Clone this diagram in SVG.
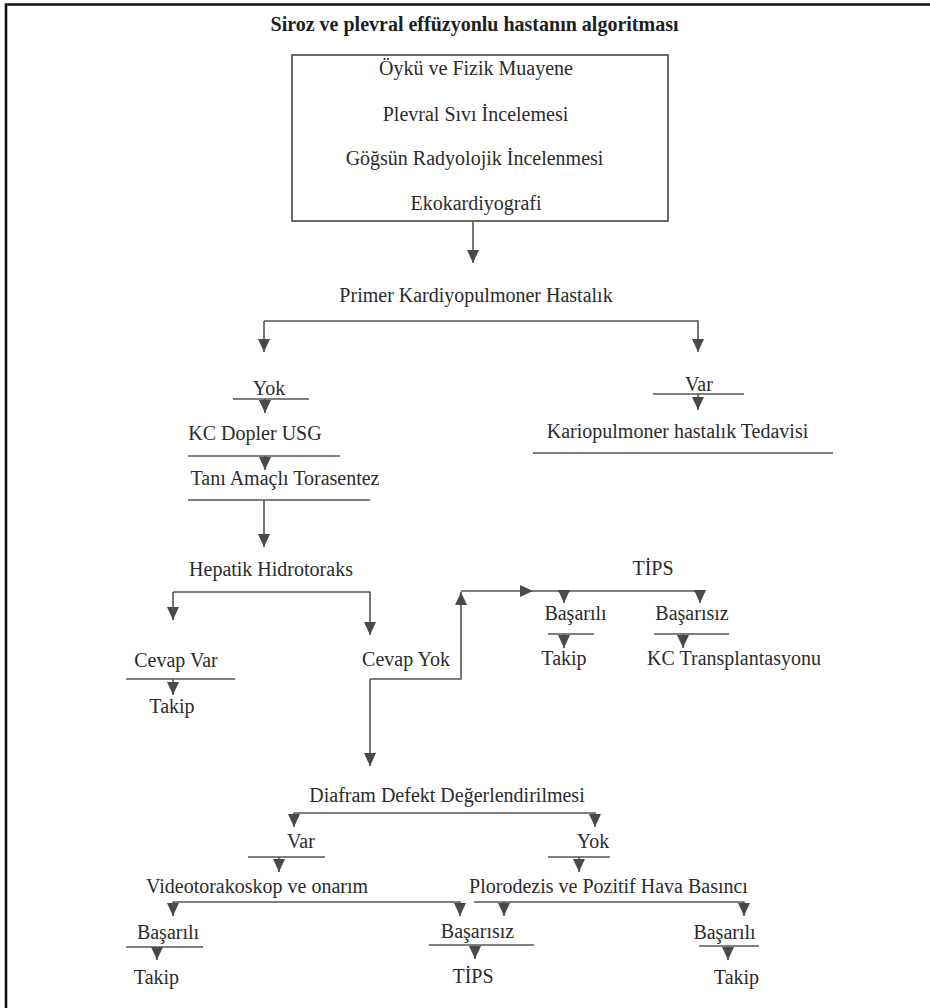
<svg xmlns="http://www.w3.org/2000/svg" width="930" height="1008" viewBox="0 0 930 1008">
<style>
text{font-family:"Liberation Serif","Times New Roman",serif;font-size:20px;fill:#2b2b2b;text-anchor:middle}
.title{font-weight:bold;fill:#1e1e1e}
.ln{fill:none;stroke:#555;stroke-width:1.6}
.ar{fill:none;stroke:#555;stroke-width:1.6;marker-end:url(#ah)}
.frame{stroke:#111;stroke-width:2.6;fill:none}
</style>
<defs>
<marker id="ah" viewBox="0 0 13 12" refX="13" refY="6" markerWidth="13" markerHeight="12" markerUnits="userSpaceOnUse" orient="auto">
<path d="M0,0 L13,6 L0,12 z" fill="#4a4a4a"/>
</marker>
</defs>
<rect width="930" height="1008" fill="#fff"/>
<path class="frame" d="M6,1008 V4.5 H930"/>
<g id="title"><text class="title" x="474.5" y="31">Siroz ve plevral effüzyonlu hastanın algoritması</text></g>
<g id="n-initial">
<rect x="292" y="55" width="376" height="166" fill="none" stroke="#444" stroke-width="1.6"/>
<text x="476" y="75">Öykü ve Fizik Muayene</text>
<text x="475.5" y="121">Plevral Sıvı İncelemesi</text>
<text x="474.5" y="165">Göğsün Radyolojik İncelenmesi</text>
<text x="476" y="210">Ekokardiyografi</text>
</g>
<g id="n-primer"><text x="476" y="302">Primer Kardiyopulmoner Hastalık</text></g>
<g id="n-yok1"><text x="269" y="395">Yok</text><line class="ln" x1="233" y1="399" x2="309" y2="399"/></g>
<g id="n-var1"><text x="699" y="391">Var</text><line class="ln" x1="653" y1="394" x2="744" y2="394"/></g>
<g id="n-dopler"><text x="255" y="440">KC Dopler USG</text><line class="ln" x1="188" y1="456" x2="340" y2="456"/></g>
<g id="n-kardio"><text x="677.5" y="438">Kariopulmoner hastalık Tedavisi</text><line class="ln" x1="533" y1="453" x2="833" y2="453"/></g>
<g id="n-torasentez"><text x="285" y="485">Tanı Amaçlı Torasentez</text><line class="ln" x1="188" y1="500" x2="370" y2="500"/></g>
<g id="n-hepatik"><text x="271" y="576">Hepatik Hidrotoraks</text></g>
<g id="n-cevapvar"><text x="176" y="667">Cevap Var</text><line class="ln" x1="126" y1="679" x2="235" y2="679"/></g>
<g id="n-takip1"><text x="172" y="713">Takip</text></g>
<g id="n-cevapyok"><text x="406" y="666">Cevap Yok</text></g>
<g id="n-tips1"><text x="653" y="575">TİPS</text></g>
<g id="n-basarili1"><text x="575.5" y="620">Başarılı</text><line class="ln" x1="548" y1="634" x2="594" y2="634"/></g>
<g id="n-basarisiz1"><text x="692" y="620">Başarısız</text><line class="ln" x1="654" y1="634" x2="729" y2="634"/></g>
<g id="n-takip2"><text x="564" y="665">Takip</text></g>
<g id="n-transplant"><text x="734" y="665">KC Transplantasyonu</text></g>
<g id="n-diafram"><text x="447" y="802">Diafram Defekt Değerlendirilmesi</text></g>
<g id="n-var2"><text x="301" y="848">Var</text><line class="ln" x1="248" y1="857" x2="325" y2="857"/></g>
<g id="n-yok2"><text x="593" y="848">Yok</text><line class="ln" x1="548" y1="857" x2="610" y2="857"/></g>
<g id="n-video"><text x="257" y="893">Videotorakoskop ve onarım</text></g>
<g id="n-plorodezis"><text x="608.5" y="893">Plorodezis ve Pozitif Hava Basıncı</text></g>
<g id="n-basarili2"><text x="168" y="939">Başarılı</text><line class="ln" x1="126" y1="947" x2="203" y2="947"/></g>
<g id="n-basarisiz2"><text x="477.5" y="938">Başarısız</text><line class="ln" x1="429" y1="945" x2="534" y2="945"/></g>
<g id="n-basarili3"><text x="724.5" y="939">Başarılı</text><line class="ln" x1="699" y1="946" x2="759" y2="946"/></g>
<g id="n-takip3"><text x="156.5" y="984">Takip</text></g>
<g id="n-tips2"><text x="473" y="983">TİPS</text></g>
<g id="n-takip4"><text x="736.5" y="984">Takip</text></g>
<g id="connectors">
<path class="ar" d="M473,221 V263"/>
<path class="ar" d="M264,321 V352"/>
<path class="ar" d="M264,321 H698 V352"/>
<path class="ar" d="M265,399 V413"/>
<path class="ar" d="M698,394 V410"/>
<path class="ar" d="M265,456 V470"/>
<path class="ar" d="M264,500 V547"/>
<path class="ar" d="M173,592 V620"/>
<path class="ar" d="M173,592 H370 V635"/>
<path class="ar" d="M173,679 V695"/>
<path class="ar" d="M370,679 V766"/>
<path class="ar" d="M370,679 H461 V592"/>
<path class="ar" d="M461,591 H533"/>
<path class="ar" d="M533,591 H700 V603"/>
<path class="ar" d="M564,591 V603"/>
<path class="ar" d="M564,634 V648"/>
<path class="ar" d="M683,634 V648"/>
<path class="ar" d="M294,813 V827"/>
<path class="ar" d="M294,813 H595 V827"/>
<path class="ar" d="M279,857 V872"/>
<path class="ar" d="M579,857 V872"/>
<path class="ar" d="M173,902 V916"/>
<path class="ar" d="M173,902 H460 V916"/>
<path class="ar" d="M504,902 V916"/>
<path class="ar" d="M474,902 H744 V916"/>
<path class="ar" d="M157,947 V960"/>
<path class="ar" d="M475,945 V959"/>
<path class="ar" d="M728,946 V960"/>
</g>
</svg>
